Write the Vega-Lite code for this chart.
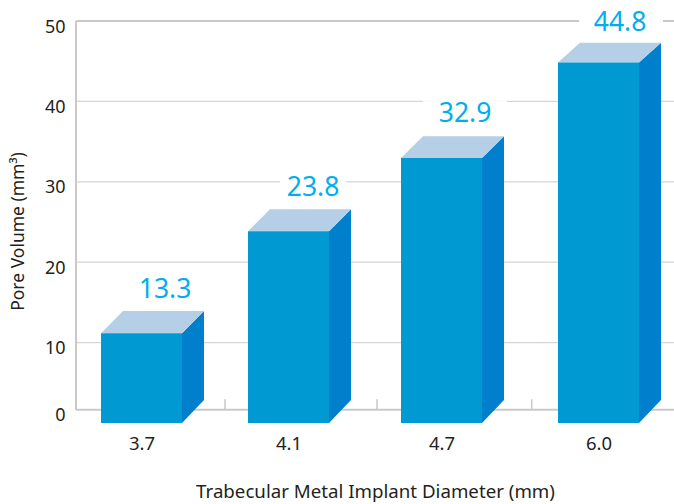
{
"$schema":"https://vega.github.io/schema/vega-lite/v6.json",
"width":598,"height":402,
"autosize":{"type":"none"},
"padding":{"left":76,"top":21,"right":0,"bottom":81},
"background":"white",
"config":{"view":{"stroke":null},"font":"Noto Sans"},
"datasets":{
"bars":[
{"diameter":"3.7","volume":13.3,"drawn":11.15,"left":25,"right":106,"labelX":89,"labelY":16.55,"boxL":48,"boxR":132,"boxB":13.93,"boxT":19},
{"diameter":"4.1","volume":23.8,"drawn":23.85,"left":172,"right":253,"labelX":237,"labelY":29.2,"boxL":204,"boxR":270,"boxB":26.6,"boxT":31.2},
{"diameter":"4.7","volume":32.9,"drawn":32.95,"left":325,"right":406,"labelX":389,"labelY":38.4,"boxL":347,"boxR":431,"boxB":35.65,"boxT":40.1},
{"diameter":"6.0","volume":44.8,"drawn":44.85,"left":482,"right":563,"labelX":544,"labelY":49.8,"boxL":503,"boxR":587,"boxB":47.3,"boxT":51.4}
],
"top":[
{"bar":"3.7","x":25,"lo":11.15,"hi":11.15},{"bar":"3.7","x":47,"lo":11.15,"hi":13.93},{"bar":"3.7","x":106,"lo":11.15,"hi":13.93},{"bar":"3.7","x":128,"lo":13.93,"hi":13.93},
{"bar":"4.1","x":172,"lo":23.85,"hi":23.85},{"bar":"4.1","x":194,"lo":23.85,"hi":26.6},{"bar":"4.1","x":253,"lo":23.85,"hi":26.6},{"bar":"4.1","x":275,"lo":26.6,"hi":26.6},
{"bar":"4.7","x":325,"lo":32.95,"hi":32.95},{"bar":"4.7","x":347,"lo":32.95,"hi":35.65},{"bar":"4.7","x":406,"lo":32.95,"hi":35.65},{"bar":"4.7","x":428,"lo":35.65,"hi":35.65},
{"bar":"6.0","x":482,"lo":44.85,"hi":44.85},{"bar":"6.0","x":504,"lo":44.85,"hi":47.3},{"bar":"6.0","x":563,"lo":44.85,"hi":47.3},{"bar":"6.0","x":585,"lo":47.3,"hi":47.3}
],
"side":[
{"bar":"3.7","x":106,"lo":0,"hi":11.15},{"bar":"3.7","x":128,"lo":2.85,"hi":13.93},
{"bar":"4.1","x":253,"lo":0,"hi":23.85},{"bar":"4.1","x":275,"lo":2.85,"hi":26.6},
{"bar":"4.7","x":406,"lo":0,"hi":32.95},{"bar":"4.7","x":428,"lo":2.85,"hi":35.65},
{"bar":"6.0","x":563,"lo":0,"hi":44.85},{"bar":"6.0","x":585,"lo":2.85,"hi":47.3}
],
"minorTicks":[{"x":149,"lo":1.65,"hi":2.95},{"x":301,"lo":1.65,"hi":2.95},{"x":455.7,"lo":1.65,"hi":2.95}],
"frameH":[{"lev":50,"x":0,"x2":598},{"lev":1.65,"x":0,"x2":598}]
},
"layer":[
{"data":{"values":[{"v":10},{"v":20},{"v":30},{"v":40}]},"mark":{"type":"rule","color":"#d6d6d6","strokeWidth":1.3},"encoding":{
"y":{"field":"v","type":"quantitative","scale":{"domain":[0,50],"nice":false,"zero":false},
"axis":{"values":[1.65,10,20,30,40,50],"labelExpr":"datum.value<2?'0':datum.label","domain":false,"ticks":false,"grid":false,"labelFontSize":18,"labelColor":"#231f20","labelPadding":11,"labelOffset":6,"labelFont":"Noto Sans","title":"Pore Volume (mm³)","titleFontSize":17.5,"titleFontWeight":"normal","titleColor":"#231f20","titleFont":"Noto Sans","titleX":-58,"titleY":210,"titleAlign":"center","titleBaseline":"middle"}},
"x":{"value":0},"x2":{"value":598}}},
{"data":{"name":"frameH"},"mark":{"type":"rule","color":"#c9c9c9","strokeWidth":2},"encoding":{
"y":{"field":"lev","type":"quantitative"},
"x":{"field":"x","type":"quantitative","scale":{"domain":[0,598],"nice":false,"zero":false},
"axis":{"values":[65.5,212.5,365.5,522.5],"labelExpr":"{'65.5':'3.7','212.5':'4.1','365.5':'4.7','522.5':'6.0'}[datum.value]","domain":false,"ticks":false,"grid":false,"labelFontSize":18.5,"labelColor":"#231f20","labelPadding":11,"labelFont":"Noto Sans","title":"Trabecular Metal Implant Diameter (mm)","titleFontSize":18.7,"titleFontWeight":"normal","titleColor":"#231f20","titleFont":"Noto Sans","titleX":299,"titleY":68,"titleAlign":"center","titleBaseline":"middle"}},
"x2":{"field":"x2"}}},
{"data":{"values":[{"x":0,"lo":1.65,"hi":50}]},"mark":{"type":"rule","color":"#c9c9c9","strokeWidth":2},"encoding":{"x":{"field":"x","type":"quantitative"},"y":{"field":"lo","type":"quantitative"},"y2":{"field":"hi"}}},
{"data":{"name":"minorTicks"},"mark":{"type":"rule","color":"#c9c9c9","strokeWidth":1.5},"encoding":{"x":{"field":"x","type":"quantitative"},"y":{"field":"lo","type":"quantitative"},"y2":{"field":"hi"}}},
{"data":{"name":"bars"},"mark":{"type":"rect","color":"white"},"encoding":{"x":{"field":"boxL","type":"quantitative"},"x2":{"field":"boxR"},"y":{"field":"boxB","type":"quantitative"},"y2":{"field":"boxT"}}},
{"data":{"name":"side"},"mark":{"type":"area","color":"#0080cc","interpolate":"linear"},"encoding":{"x":{"field":"x","type":"quantitative"},"y":{"field":"lo","type":"quantitative","stack":null},"y2":{"field":"hi"},"detail":{"field":"bar"}}},
{"data":{"name":"top"},"mark":{"type":"area","color":"#b5cfe6","interpolate":"linear"},"encoding":{"x":{"field":"x","type":"quantitative"},"y":{"field":"lo","type":"quantitative","stack":null},"y2":{"field":"hi"},"detail":{"field":"bar"}}},
{"data":{"name":"bars"},"mark":{"type":"rect","color":"#0099d1"},"encoding":{"x":{"field":"left","type":"quantitative"},"x2":{"field":"right"},"y":{"field":"drawn","type":"quantitative"},"y2":{"datum":0}}},
{"data":{"name":"bars"},"mark":{"type":"text","color":"#00aeef","fontSize":26.5,"font":"Noto Sans","fontWeight":400,"align":"center","baseline":"middle"},"encoding":{"x":{"field":"labelX","type":"quantitative"},"y":{"field":"labelY","type":"quantitative"},"text":{"field":"volume","type":"quantitative","format":".1f"}}}
]
}
